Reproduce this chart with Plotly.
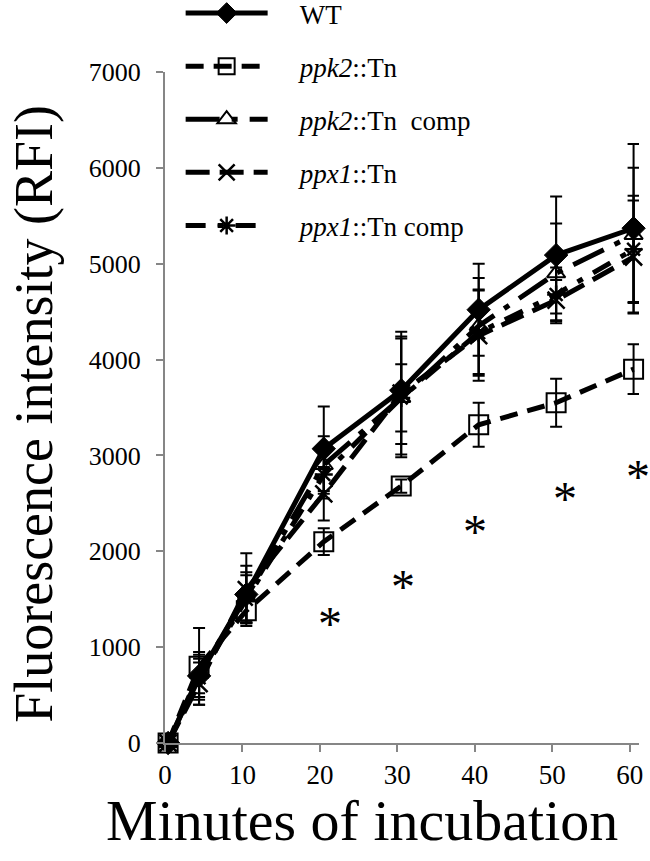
import plotly.graph_objects as go

# ---- data ----
minutes = [0.4, 4.4, 10.5, 20.5, 30.5, 40.5, 50.5, 60.5]

wt = [0, 700, 1550, 3070, 3680, 4520, 5090, 5370]
wt_err = [0, 250, 300, 440, 560, 480, 610, 880]

ppk2 = [0, 800, 1380, 2100, 2680, 3320, 3550, 3900]
ppk2_err = [0, 400, 120, 140, 70, 230, 250, 260]

ppk2_comp = [0, 720, 1520, 2900, 3600, 4350, 4900, 5300]
ppk2_comp_err = [0, 200, 260, 300, 620, 500, 520, 700]

ppx1 = [0, 620, 1600, 2600, 3650, 4250, 4620, 5070]
ppx1_err = [0, 220, 380, 280, 640, 470, 210, 590]

ppx1_comp = [0, 680, 1500, 2800, 3600, 4280, 4680, 5150]
ppx1_comp_err = [0, 200, 250, 250, 350, 450, 280, 560]

sig_x = [21.3, 30.7, 40.0, 51.6, 61.1]
sig_y = [1314, 1700, 2264, 2618, 2848]
sig_text = ["*", "*", "*", "*", "*"]

x_ticks = [0, 10, 20, 30, 40, 50, 60]
y_ticks = [0, 1000, 2000, 3000, 4000, 5000, 6000, 7000]

names = ["WT", "<i>ppk2</i>::Tn", "<i>ppk2</i>::Tn  comp", "<i>ppx1</i>::Tn", "<i>ppx1</i>::Tn comp"]

FONT = "Liberation Serif, Times New Roman, serif"
BLACK = "#000000"
AXIS = "#868686"
PAD = "\u00a0" * 4

series = [
    (names[0], wt, wt_err, "solid", dict(symbol="diamond", size=18, color=BLACK, line=dict(color=BLACK, width=1))),
    (names[1], ppk2, ppk2_err, "18px,10px", dict(symbol="square-open", size=19, color=BLACK, line=dict(color=BLACK, width=2))),
    (names[2], ppk2_comp, ppk2_comp_err, "34px,12px,6px,12px", dict(symbol="triangle-up-open", size=16, color=BLACK, line=dict(color=BLACK, width=2))),
    (names[3], ppx1, ppx1_err, "24px,10px", dict(symbol="x-thin-open", size=17, color=BLACK, line=dict(color=BLACK, width=2.5))),
    (names[4], ppx1_comp, ppx1_comp_err, "20px,12px,6px,12px", dict(symbol="asterisk-open", size=15, color=BLACK, line=dict(color=BLACK, width=2.5))),
]

fig = go.Figure()
# draw WT last so it sits on top
for rank, (name, ys, err, dash, marker) in reversed(list(enumerate(series))):
    fig.add_trace(go.Scatter(
        x=minutes, y=ys, name=PAD + name, mode="lines+markers",
        line=dict(color=BLACK, width=5, dash=dash),
        marker=marker,
        error_y=dict(type="data", array=err, visible=True, color=BLACK, thickness=2, width=6),
        legendrank=rank + 1, legendgroup="g%d" % rank,
        cliponaxis=False,
    ))

for sx, sy, st in zip(sig_x, sig_y, sig_text):
    fig.add_annotation(x=sx, y=sy, text=st, showarrow=False,
                       font=dict(family=FONT, size=48, color=BLACK), yshift=-6)

# axis titles as annotations (placed as in the reference)
fig.add_annotation(xref="paper", yref="paper", x=0.4156, y=-0.116,
                   xanchor="center", yanchor="middle", showarrow=False,
                   text="Minutes of incubation",
                   font=dict(family=FONT, size=58, color=BLACK))
fig.add_annotation(xref="paper", yref="paper", x=-0.275, y=0.49,
                   xanchor="center", yanchor="middle", showarrow=False, textangle=-90,
                   text="Fluorescence intensity (RFI)",
                   font=dict(family=FONT, size=54, color=BLACK))

fig.update_layout(
    width=650, height=861,
    paper_bgcolor="white", plot_bgcolor="white",
    margin=dict(l=165, r=11, t=72, b=118, autoexpand=False),
    font=dict(family=FONT, color=BLACK),
    showlegend=True,
    legend=dict(x=0.033, y=1.1237, xanchor="left", yanchor="top",
                font=dict(family=FONT, size=27, color=BLACK),
                bgcolor="rgba(0,0,0,0)", itemwidth=82, tracegroupgap=15,
                traceorder="grouped"),
    xaxis=dict(range=[0, 61.2], tickvals=x_ticks, ticktext=[str(v) for v in x_ticks],
               showgrid=False, zeroline=False, showline=True, linecolor=AXIS, linewidth=2,
               ticks="outside", tickcolor=AXIS, ticklen=7, tickwidth=2,
               tickfont=dict(family=FONT, size=27, color=BLACK)),
    yaxis=dict(range=[0, 7000], tickvals=y_ticks, ticktext=[str(v) for v in y_ticks],
               showgrid=False, zeroline=False, showline=True, linecolor=AXIS, linewidth=2,
               ticks="outside", tickcolor=AXIS, ticklen=7, tickwidth=2, ticklabelstandoff=10,
               tickfont=dict(family=FONT, size=26, color=BLACK)),
)

fig.write_html("out.html", config={"displayModeBar": False},
               post_script="document.body.style.margin='0';document.body.style.overflow='hidden';")
